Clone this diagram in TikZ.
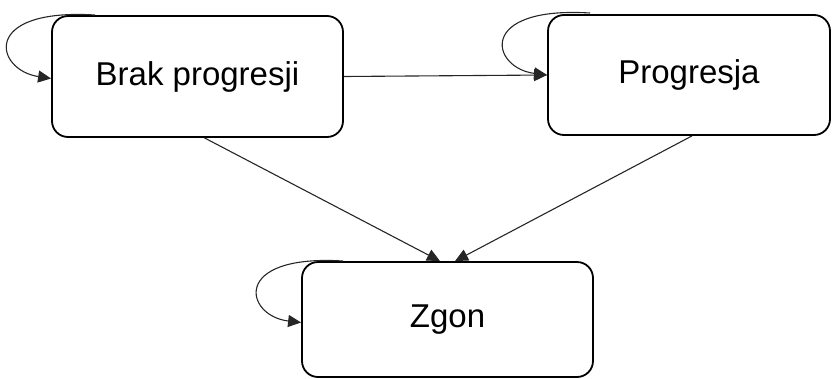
\documentclass[tikz,border=0pt]{standalone}
\usepackage{fontspec}
\setmainfont{Liberation Sans}
\usetikzlibrary{arrows.meta}
\begin{document}
\begin{tikzpicture}[x=1pt,y=-1pt,
  state/.style={draw=black,line width=1.8pt,rounded corners=16pt,fill=white,
    font=\fontsize{33}{40}\selectfont,inner sep=0pt},
  conn/.style={draw=black!85,line width=1.1pt,-{Triangle[length=13pt,width=12pt]}}]
\useasboundingbox (0,0) rectangle (833,378);
\node[state,minimum width=291pt,minimum height=121pt] (b1) at (197.5,76.5) {Brak progresji};
\node[state,minimum width=282pt,minimum height=120pt] (b2) at (689,75) {Progresja};
\node[state,minimum width=291pt,minimum height=115pt] (zg) at (447.5,319.5) {Zgon};
\coordinate (l1) at (95,15);
\coordinate (l2) at (590,13);
\coordinate (l3) at (343,261);
\draw[conn] (l1) .. controls (-20,8) and (-5,70) .. ([yshift=-2pt]b1.west);
\draw[conn] (l2) .. controls (476,6) and (491,68) .. (b2.west);
\draw[conn] (l3) .. controls (230,254) and (245,316) .. ([yshift=-3pt]zg.west);
\draw[conn] (b1.east) -- (b2.west);
\draw[conn] ([xshift=7pt]b1.south) -- ([xshift=-7.5pt]zg.north);
\draw[conn] ([xshift=3pt]b2.south) -- ([xshift=7.5pt]zg.north);
\end{tikzpicture}
\end{document}
